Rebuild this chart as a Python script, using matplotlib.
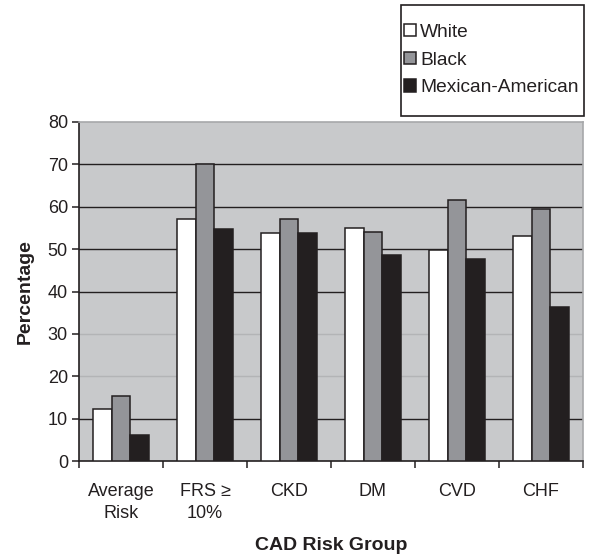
import matplotlib
matplotlib.use("Agg")
import matplotlib.pyplot as plt
import numpy as np
from matplotlib.patches import Patch, Rectangle

plt.rcParams['font.family'] = ['Liberation Sans', 'DejaVu Sans']

categories = ["Average\nRisk", "FRS \u2265\n10%", "CKD", "DM", "CVD", "CHF"]
series_names = ["White", "Black", "Mexican-American"]
white = [12.2, 57.0, 53.8, 55.0, 49.8, 53.1]
black = [15.4, 70.0, 57.0, 54.0, 61.6, 59.4]
mexican = [6.1, 54.7, 53.7, 48.5, 47.7, 36.4]
yticks = [0, 10, 20, 30, 40, 50, 60, 70, 80]

colors = ["#ffffff", "#949599", "#231f20"]
edge = "#231f20"
bg = "#c8c9cb"
FS = 13

W, H = 591, 557
fig = plt.figure(figsize=(W / 100, H / 100), dpi=100)
ax = fig.add_axes([79 / W, 1 - 461 / H, (583 - 79) / W, (461 - 122) / H])
ax.set_facecolor(bg)

x = np.arange(len(categories))
bw = 0.222
for i, (vals, c, name) in enumerate(zip([white, black, mexican], colors, series_names)):
    ax.bar(x + (i - 1) * bw, vals, width=bw, color=c, edgecolor=edge,
           linewidth=1.1, zorder=3, label=name)

# gridlines
for yv in yticks[1:-1]:
    col = "#b3b4b6" if yv in (20, 30) else "#231f20"
    ax.axhline(yv, color=col, lw=1.0, zorder=1)

ax.set_xlim(-0.5, len(categories) - 0.5)
ax.set_ylim(0, 80)
ax.set_yticks(yticks)
ax.set_yticklabels([str(v) for v in yticks], fontsize=FS, color="#231f20")
ax.set_xticks(np.arange(len(categories) + 1) - 0.5, minor=False)
ax.set_xticklabels([])
ax.set_xticks(x, minor=True)
ax.set_xticklabels(categories, minor=True, fontsize=FS, color="#231f20",
                   linespacing=1.4)
ax.tick_params(axis='x', which='minor', length=0, pad=16)
ax.tick_params(axis='x', which='major', direction='out', length=5, width=1.1, color=edge)
ax.tick_params(axis='y', direction='out', length=5, width=1.1, color=edge, pad=3)

for s in ['left', 'bottom']:
    ax.spines[s].set_color(edge)
    ax.spines[s].set_linewidth(1.2)
for s in ['top', 'right']:
    ax.spines[s].set_color("#a7a8aa")
    ax.spines[s].set_linewidth(1.2)

fig.text(25 / W, 1 - 292 / H, "Percentage", rotation=90, ha='center', va='center',
         fontsize=14, fontweight='bold', color="#231f20")
fig.text(331 / W, 1 - 545 / H, "CAD Risk Group", ha='center', va='center',
         fontsize=14, fontweight='bold', color="#231f20")

# legend
fig.patches.append(Rectangle((401 / W, 1 - 116 / H), 183 / W, 111 / H,
                             transform=fig.transFigure, fill=False,
                             edgecolor=edge, lw=1.2))
handles = [Patch(facecolor=c, edgecolor=edge, linewidth=1.1) for c in colors]
fig.legend(handles, series_names, loc='center left',
           bbox_to_anchor=(404 / W, 1 - 60 / H), frameon=False, borderpad=0,
           handlelength=0.62, handleheight=0.62, handletextpad=0.22,
           labelspacing=0.55, fontsize=13.8, labelcolor="#231f20",
           borderaxespad=0)

fig.savefig("out.png", dpi=100)
